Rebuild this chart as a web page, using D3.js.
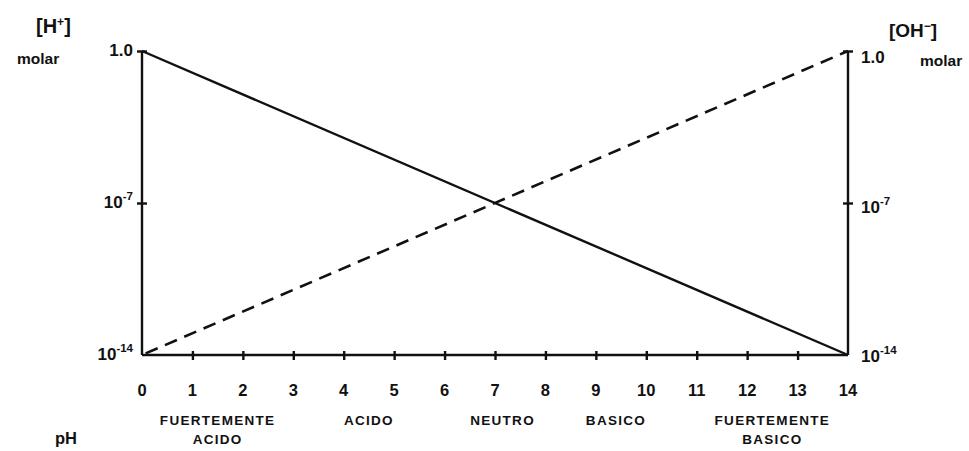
<!DOCTYPE html>
<html lang="es">
<head>
<meta charset="UTF-8">
<title>pH</title>
<script src="https://d3js.org/d3.v7.min.js"></script>
<style>
    *{margin:0;padding:0}
    body{background:#fff}
    svg text{font-family:"Liberation Sans",Arial,sans-serif;font-weight:bold;fill:#111}
    .axis path,.axis line{stroke:#111;stroke-width:2.4}
</style>
</head>
<body>
<div id="chart"></div>
<script>
    // valores
    var phValues = [0,1,2,3,4,5,6,7,8,9,10,11,12,13,14];
    var hPlus = [{ph:0,c:1},{ph:14,c:1e-14}];      // [H+] linea continua
    var ohMinus = [{ph:0,c:1e-14},{ph:14,c:1}];    // [OH-] linea discontinua
    var concTicks = [1,1e-7,1e-14];
    var concExp = {"1":null,"1e-7":"-7","1e-14":"-14"};
    var zoneNames = [["FUERTEMENTE","ACIDO"],["ACIDO"],["NEUTRO"],["BASICO"],["FUERTEMENTE","BASICO"]];
    var zonePh = [1.5,4.5,7.15,9.4,12.5];

    var width = 969, height = 451;
    var svg = d3.select("#chart").append("svg")
        .attr("width",width).attr("height",height);

    var x = d3.scaleLinear().domain([0,14]).range([142,848]);
    var y = d3.scaleLog().domain([1e-14,1]).range([355,51]);

    /*ejes*/
    var xAxis = svg.append("g").attr("class","axis")
        .attr("transform","translate(0,"+y(1e-14)+")")
        .call(d3.axisBottom(x).tickValues(phValues).tickSize(0).tickFormat(""));
    xAxis.select(".domain").attr("d","M"+x(0)+",0H"+x(14));
    xAxis.selectAll(".tick line").attr("y1",-4).attr("y2",5).attr("stroke-width",2);
    xAxis.selectAll(".tick").filter(function(d){return d===0||d===14}).select("line").remove();

    var yLeft = svg.append("g").attr("class","axis")
        .attr("transform","translate("+x(0)+",0)")
        .call(d3.axisLeft(y).tickValues(concTicks).tickSize(0).tickFormat(""));
    yLeft.select(".domain").attr("d","M0,"+y(1)+"V"+y(1e-14));
    yLeft.selectAll(".tick line").attr("x1",-5).attr("x2",5).attr("stroke-width",2)
        .filter(function(d){return d===1e-14}).remove();

    var yRight = svg.append("g").attr("class","axis")
        .attr("transform","translate("+x(14)+",0)")
        .call(d3.axisRight(y).tickValues(concTicks).tickSize(0).tickFormat(""));
    yRight.select(".domain").attr("d","M0,"+y(1)+"V"+y(1e-14));
    yRight.selectAll(".tick line").attr("x1",-5).attr("x2",5).attr("stroke-width",2)
        .filter(function(d){return d===1e-14}).remove();

    /*lineas*/
    var line = d3.line().x(function(d){return x(d.ph)}).y(function(d){return y(d.c)});
    svg.append("path").datum(hPlus).attr("d",line)
        .attr("fill","none").attr("stroke","#111").attr("stroke-width",2.4);
    svg.append("path").datum(ohMinus).attr("d",line)
        .attr("fill","none").attr("stroke","#111").attr("stroke-width",2.6)
        .attr("stroke-dasharray","13,8").attr("stroke-dashoffset",-4);

    /*etiquetas de pH*/
    svg.selectAll(".phlab").data(phValues).enter().append("text")
        .attr("class","phlab")
        .attr("x",function(d){return x(d)})
        .attr("y",396)
        .attr("text-anchor","middle")
        .attr("font-size",16.5)
        .text(function(d){return d});

    /*zonas*/
    var zones = svg.selectAll(".zone").data(zoneNames).enter().append("text")
        .attr("class","zone")
        .attr("text-anchor","middle")
        .attr("font-size",13.5)
        .attr("letter-spacing",1.3);
    zones.selectAll("tspan").data(function(d,i){
            return d.map(function(t){return {t:t,ph:zonePh[i]}});
        }).enter().append("tspan")
        .attr("x",function(d){return x(d.ph)})
        .attr("y",function(d,j){return 425+j*19})
        .text(function(d){return d.t});

    /*etiquetas de concentracion*/
    function concLabel(d,side){
        var dy = side==="left" ? 5 : (d===1 ? 12 : (d===1e-7 ? 10 : 7));
        var t = svg.append("text").attr("font-size",17)
            .attr("text-anchor",side==="left"?"end":"start")
            .attr("x",side==="left"?x(0)-9:x(14)+13)
            .attr("y",y(d)+dy);
        var e = concExp[String(d)];
        if(e===null){
            t.text("1.0");
        } else {
            t.append("tspan").text("10");
            t.append("tspan").attr("dy",-8).attr("font-size",11.5).text(e);
        }
    }
    concTicks.forEach(function(d){concLabel(d,"left");concLabel(d,"right")});

    /*titulos*/
    var hl = svg.append("text").attr("x",36).attr("y",33).attr("font-size",20);
    hl.append("tspan").text("[H");
    hl.append("tspan").attr("dy",-7).attr("font-size",12).text("+");
    hl.append("tspan").attr("dy",7).text("]");
    svg.append("text").attr("x",17).attr("y",64).attr("font-size",15.5).text("molar");

    var ohl = svg.append("text").attr("x",889).attr("y",37).attr("font-size",19);
    ohl.append("tspan").text("[OH");
    ohl.append("tspan").attr("dy",-7).attr("font-size",12).text("−");
    ohl.append("tspan").attr("dy",7).text("]");
    svg.append("text").attr("x",920).attr("y",66).attr("font-size",15.5).text("molar");

    svg.append("text").attr("x",55).attr("y",444).attr("font-size",16.5).text("pH");
</script>
</body>
</html>
